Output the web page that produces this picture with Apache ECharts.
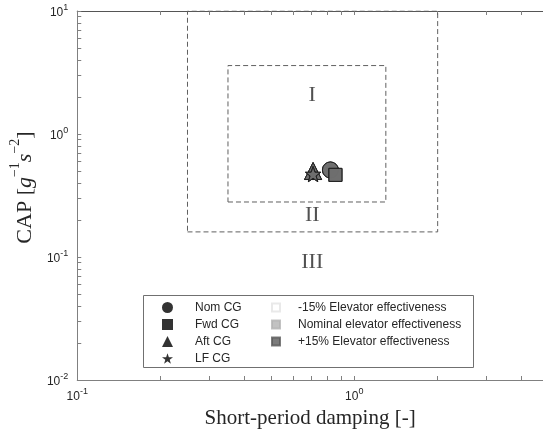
<!DOCTYPE html>
<html>
<head>
<meta charset="utf-8">
<script src="https://cdn.jsdelivr.net/npm/echarts@6/dist/echarts.min.js"></script>
<style>html,body{margin:0;padding:0;background:#fff}#c{width:543px;height:437px}</style>
</head>
<body>
<div id="c"></div>
<script>
// ---- data ----
var cgNames = ['Nom CG', 'Fwd CG', 'Aft CG', 'LF CG'];
var elevNames = ['-15% Elevator effectiveness', 'Nominal elevator effectiveness', '+15% Elevator effectiveness'];
// damping and CAP per CG (rows) for each elevator case (columns: -15%, nominal, +15%)
var dampingVals = [
  [0.82, 0.82, 0.82],
  [0.855, 0.855, 0.855],
  [0.71, 0.71, 0.71],
  [0.71, 0.71, 0.71]
];
var capVals = [
  [0.51, 0.51, 0.51],
  [0.465, 0.465, 0.465],
  [0.50, 0.50, 0.50],
  [0.472, 0.472, 0.472]
];
var level1Damping = [0.35, 1.30];
var level1Cap = [0.28, 3.6];
var level2Damping = [0.25, 2.00];
var level2Cap = [0.16, 10];
var regionLabels = ['I', 'II', 'III'];
var regionDamping = [0.705, 0.705, 0.705];
var regionCap = [2.05, 0.22, 0.091];
var xMajorTicks = [0.1, 1];
var xMinorTicks = [0.2, 0.3, 0.4, 0.5, 0.6, 0.7, 0.8, 0.9, 2, 3, 4];
var yMajorTicks = [0.01, 0.1, 1, 10];
var yMinorTicks = [0.02,0.03,0.04,0.05,0.06,0.07,0.08,0.09,0.2,0.3,0.4,0.5,0.6,0.7,0.8,0.9,2,3,4,5,6,7,8,9];

// ---- styling ----
var elevColors = ['#ffffff', '#b3b3b3', '#5a5a5a'];
var elevBorders = ['#e4e4e4', '#b3b3b3', '#5a5a5a'];
function starPath() {
  var pts = [];
  for (var i = 0; i < 10; i++) {
    var r = (i % 2 === 0) ? 1 : 0.4;
    var a = -Math.PI / 2 + i * Math.PI / 5;
    pts.push((r * Math.cos(a)).toFixed(4) + ' ' + (r * Math.sin(a)).toFixed(4));
  }
  return 'path://M' + pts.join(' L') + ' Z';
}
var cgSymbols = ['circle', 'rect', 'triangle', starPath()];
var cgSizes = [16, 13, 17, 15];

function supFmt(v) {
  var e = Math.round(Math.log10(v));
  return '{b|10}{s|' + e + '}';
}
var tickRich = {
  b: { fontSize: 12, fontFamily: 'Liberation Sans', color: '#262626', lineHeight: 16, verticalAlign: 'bottom' },
  s: { fontSize: 9, fontFamily: 'Liberation Sans', color: '#262626', lineHeight: 9, verticalAlign: 'top' }
};
var axisColor = '#808080';
var allX = xMajorTicks.concat(xMinorTicks);
var allY = yMajorTicks.concat(yMinorTicks);

function boxPts(xs, ys) {
  return [[xs[0], ys[0]], [xs[1], ys[0]], [xs[1], ys[1]], [xs[0], ys[1]], [xs[0], ys[0]]];
}

var series = [];
[[level1Damping, level1Cap], [level2Damping, level2Cap]].forEach(function (b) {
  series.push({
    type: 'line', data: boxPts(b[0], b[1]), symbol: 'none', silent: true,
    lineStyle: { color: '#606060', width: 1, type: [5, 3] }, z: 1
  });
});
series.push({
  type: 'scatter', symbolSize: 0, silent: true,
  data: regionLabels.map(function (t, i) { return { value: [regionDamping[i], regionCap[i]], name: t }; }),
  label: { show: true, position: 'inside', formatter: '{b}', fontFamily: 'Liberation Serif', fontSize: 22, color: '#262626' }
});
cgNames.forEach(function (n, i) {
  series.push({
    type: 'scatter', name: n, symbol: cgSymbols[i], symbolSize: cgSizes[i], z: 5 + i,
    itemStyle: { color: '#000', borderColor: '#000', borderWidth: 1 },
    data: dampingVals[i].map(function (d, j) {
      return { value: [d, capVals[i][j]], itemStyle: { color: elevColors[j], borderColor: '#1a1a1a', borderWidth: 1 } };
    })
  });
});
elevNames.forEach(function (n, j) {
  series.push({ type: 'scatter', name: n, symbol: 'rect', data: [], itemStyle: { color: elevColors[j], borderColor: elevBorders[j], borderWidth: 1 } });
});

function legendText(pad) {
  return { fontFamily: 'Liberation Sans', fontSize: 12, color: '#262626', lineHeight: 17, padding: [0, 0, 0, pad] };
}
var option = {
  animation: false,
  backgroundColor: '#fff',
  grid: { left: 77, top: 11, right: 0, bottom: 57 },
  xAxis: [{
    type: 'log', min: 0.1, max: 4.8, logBase: 10,
    name: 'Short-period damping [-]', nameLocation: 'middle', nameGap: 19,
    nameTextStyle: { fontFamily: 'Liberation Serif', fontSize: 21, color: '#262626' },
    axisLine: { show: true, lineStyle: { color: axisColor, width: 1 } },
    axisTick: { show: true, inside: true, length: 4, customValues: allX, lineStyle: { color: axisColor } },
    axisLabel: { show: true, customValues: xMajorTicks, formatter: supFmt, rich: tickRich, margin: 7 },
    splitLine: { show: false }
  }, {
    type: 'log', min: 0.1, max: 4.8, position: 'top',
    axisLine: { show: true, lineStyle: { color: '#555', width: 1 } },
    axisTick: { show: true, inside: true, length: 4, customValues: allX, lineStyle: { color: axisColor } },
    axisLabel: { show: false }, splitLine: { show: false }
  }],
  yAxis: {
    type: 'log', min: 0.01, max: 10,
    name: '{r|CAP [}{i|g}{sup|−1}{i|s}{sup|−2}{r|]}', nameLocation: 'middle', nameGap: 38, nameRotate: 90,
    nameTextStyle: {
      padding: [0, 0, 0, 16],
      rich: {
        r: { fontFamily: 'Liberation Serif', fontSize: 22, color: '#262626', lineHeight: 28, verticalAlign: 'bottom' },
        i: { fontFamily: 'Liberation Serif', fontStyle: 'italic', fontSize: 22, color: '#262626', lineHeight: 28, verticalAlign: 'bottom' },
        sup: { fontFamily: 'Liberation Serif', fontSize: 14, color: '#262626', lineHeight: 16, verticalAlign: 'top' }
      }
    },
    axisLine: { show: true, lineStyle: { color: axisColor, width: 1 } },
    axisTick: { show: true, inside: true, length: 4, customValues: allY, lineStyle: { color: axisColor } },
    axisLabel: { show: true, customValues: yMajorTicks, formatter: supFmt, rich: tickRich, margin: 9 },
    splitLine: { show: false }
  },
  legend: [{
    orient: 'vertical', left: 162, top: 299, padding: 0, itemGap: 0,
    itemWidth: 11, itemHeight: 11, selectedMode: false,
    textStyle: legendText(17),
    data: cgNames.map(function (n, i) {
      return { name: n, icon: cgSymbols[i], itemStyle: { color: '#000', borderWidth: 0 } };
    })
  }, {
    orient: 'vertical', left: 271, top: 299, padding: 0, itemGap: 0,
    itemWidth: 8, itemHeight: 8, selectedMode: false,
    textStyle: legendText(13),
    data: elevNames.map(function (n) { return { name: n, icon: 'rect' }; })
  }],
  graphic: [{
    type: 'rect', left: 143, top: 295, z: 0,
    shape: { width: 330, height: 72 },
    style: { fill: '#fff', stroke: '#707070', lineWidth: 1 }
  }],
  series: series
};
var chart = echarts.init(document.getElementById('c'), null, { renderer: 'canvas' });
chart.setOption(option);
</script>
</body>
</html>
